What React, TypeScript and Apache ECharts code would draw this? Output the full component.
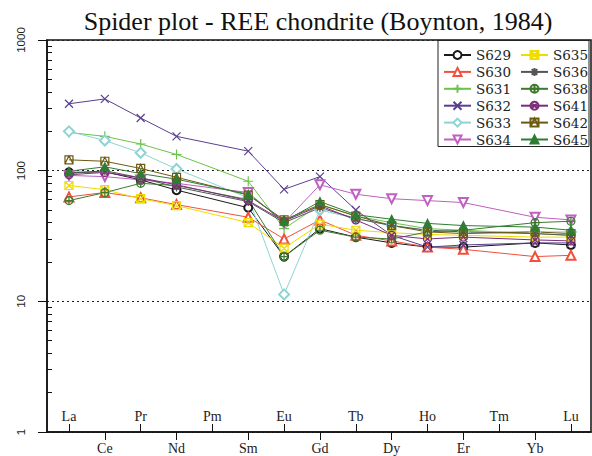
import React, { useEffect, useRef } from "react";
import * as echarts from "echarts";

const elements = ["La", "Ce", "Pr", "Nd", "Pm", "Sm", "Eu", "Gd", "Tb", "Dy", "Ho", "Er", "Tm", "Yb", "Lu"];
const insideLabelIdx = [0, 2, 4, 6, 8, 10, 12, 14];
const outsideLabelIdx = [1, 3, 5, 7, 9, 11, 13];
const minorTickValues = [2, 3, 4, 5, 6, 7, 8, 9, 20, 30, 40, 50, 60, 70, 80, 90, 200, 300, 400, 500, 600, 700, 800, 900];

const sampleNames = ["S629", "S630", "S631", "S632", "S633", "S634", "S635", "S636", "S638", "S641", "S642", "S645"];
const legendCol1 = ["S629", "S630", "S631", "S632", "S633", "S634"];
const legendCol2 = ["S635", "S636", "S638", "S641", "S642", "S645"];

const S629 = [97, 98, 85, 71, null, 52, 22, 36, 31, 28, 26, 26, null, 28, 27];
const S630 = [63, 68, 62, 55, null, 44, 30, 42, 32, 29, 26, 25, null, 22, 22.5];
const S631 = [196, 183, 160, 133, null, 83, 36, 55, 45, 40, 36, 35, null, 33, 32];
const S632 = [325, 354, 253, 183, null, 141, 72, 90, 50, 32, 26, 27, null, 28, 28];
const S633 = [200, 170, 137, 103, null, 62, 11.3, 50, 43, 38, 35, 34, null, 34, 34];
const S634 = [92, 90, 85, 80, null, 68, 40, 78, 66, 61, 59, 57, null, 44, 42];
const S635 = [77, 71.5, 61, 54, null, 40, 25.5, 39, 35, 33.5, 32.5, 32, null, 31, 31];
const S636 = [95, 100, 88, 75, null, 58, 40, 52, 43, 38, 35, 34, null, 33, 32];
const S638 = [59, 68, 80, 77, null, 60, 22, 35, 31, 30, 34, 35, null, 40, 41];
const S641 = [93, 97, 88, 78, null, 59, 41, 54, 42, 32, 30, 31, null, 29.5, 29];
const S642 = [121, 118, 104, 89, null, 65, 42, 55, 45, 38, 34, 33, null, 34, 33];
const S645 = [99, 107, 95, 86, null, 66, 41, 58, 46, 42.5, 39.5, 38, null, 37, 35];

const sampleValues = [S629, S630, S631, S632, S633, S634, S635, S636, S638, S641, S642, S645];

const colors = ["#1a1a1a", "#f0503c", "#6cc24a", "#5b3f8f", "#8fd3d3", "#c060c0", "#eedd00", "#555555", "#3d7a2e", "#7a2e7a", "#6b5a10", "#2e7d32"];

const PLUS = "path://M5,0L5,10M0,5L10,5";
const CROSS = "path://M0,0L10,10M10,0L0,10";
const STAR = "path://M5,0L5,10M0,5L10,5M1.5,1.5L8.5,8.5M8.5,1.5L1.5,8.5";
const SQ_CROSS = "path://M0,0L10,0L10,10L0,10ZM0,0L10,10M10,0L0,10";
const CIRC_PLUS = "path://M0,5A5,5,0,1,1,10,5A5,5,0,1,1,0,5ZM5,0L5,10M0,5L10,5";
const CIRC_CROSS = "path://M0,5A5,5,0,1,1,10,5A5,5,0,1,1,0,5ZM1.5,1.5L8.5,8.5M8.5,1.5L1.5,8.5";
const SQ_TRI = "path://M0,0L10,0L10,10L0,10ZM0,10L5,0L10,10";

type Sym = { symbol: string; size: number; rotate?: number; outline?: boolean };
const symbols: Sym[] = [
  { symbol: "emptyCircle", size: 8 },
  { symbol: "emptyTriangle", size: 9 },
  { symbol: PLUS, size: 10, outline: true },
  { symbol: CROSS, size: 8, outline: true },
  { symbol: "emptyDiamond", size: 10 },
  { symbol: "emptyTriangle", size: 9, rotate: 180 },
  { symbol: SQ_CROSS, size: 8, outline: true },
  { symbol: STAR, size: 9, outline: true },
  { symbol: CIRC_PLUS, size: 8, outline: true },
  { symbol: CIRC_CROSS, size: 8, outline: true },
  { symbol: SQ_TRI, size: 8, outline: true },
  { symbol: "triangle", size: 8 },
];

export default function App() {
  const ref = useRef<HTMLDivElement>(null);
  useEffect(() => {
    if (!ref.current) return;
    const chart = echarts.init(ref.current, undefined, { renderer: "svg" });
    const serif = "Liberation Serif";
    const series = sampleNames.map((name, k) => {
      const c = colors[k];
      const s = symbols[k];
      const data = sampleValues[k]
        .map((v, i) => (v == null ? null : [i, v]))
        .filter((d) => d !== null);
      return {
        name,
        type: "line",
        xAxisIndex: 0,
        yAxisIndex: 0,
        data,
        symbol: s.symbol,
        symbolSize: s.size,
        symbolRotate: s.rotate || 0,
        showAllSymbol: true,
        lineStyle: { color: c, width: 1 },
        itemStyle: s.outline
          ? { color: "none", borderColor: c, borderWidth: 1.2 }
          : { color: c, borderColor: c, borderWidth: 1.2 },
        emphasis: { disabled: true },
      };
    });
    const legendCommon = {
      orient: "vertical",
      top: 48,
      padding: 0,
      itemWidth: 27,
      itemHeight: 10,
      itemGap: 2.9,
      selectedMode: false,
      textStyle: { fontFamily: "DejaVu Serif", fontSize: 13.5, color: "#222", lineHeight: 10 },
    };
    chart.setOption({
      animation: false,
      backgroundColor: "#fff",
      title: {
        text: "Spider plot - REE chondrite (Boynton, 1984)",
        left: 318,
        top: 8,
        padding: 0,
        textAlign: "center",
        textStyle: { fontFamily: serif, fontSize: 26, fontWeight: "normal", color: "#111" },
      },
      graphic: [
        {
          type: "rect",
          z: 3,
          shape: { x: 438, y: 40.5, width: 151, height: 106 },
          style: { fill: "#fff", stroke: "#222", lineWidth: 1 },
        },
      ],
      legend: [
        { ...legendCommon, data: legendCol1, left: 443 },
        { ...legendCommon, data: legendCol2, left: 520 },
      ],
      grid: {
        left: 47,
        right: 1,
        top: 40,
        bottom: 24,
        show: true,
        borderColor: "#111",
        borderWidth: 1.5,
        containLabel: false,
      },
      xAxis: [
        {
          type: "value",
          min: -0.613,
          max: 14.56,
          position: "bottom",
          axisLine: { show: true, onZero: false, lineStyle: { color: "#111", width: 1.5 } },
          splitLine: { show: false },
          axisTick: { show: true, inside: false, length: 8, customValues: outsideLabelIdx, lineStyle: { color: "#111" } },
          axisLabel: {
            show: true,
            customValues: outsideLabelIdx,
            margin: 9,
            fontFamily: serif,
            fontSize: 14,
            color: "#222",
            formatter: (v: number) => elements[Math.round(v)] || "",
          },
        },
        {
          type: "value",
          min: -0.613,
          max: 14.56,
          position: "bottom",
          axisLine: { show: false, onZero: false },
          splitLine: { show: false },
          axisTick: { show: true, inside: true, length: 8, customValues: insideLabelIdx, lineStyle: { color: "#111" } },
          axisLabel: {
            show: true,
            inside: true,
            customValues: insideLabelIdx,
            margin: 9,
            fontFamily: serif,
            fontSize: 14,
            color: "#222",
            formatter: (v: number) => elements[Math.round(v)] || "",
          },
        },
      ],
      yAxis: [
        {
          type: "log",
          logBase: 10,
          min: 1,
          max: 1000,
          position: "left",
          axisLine: { show: true, onZero: false, lineStyle: { color: "#111", width: 1.5 } },
          axisTick: { show: true, inside: false, length: 9, lineStyle: { color: "#111" } },
          axisLabel: {
            rotate: 90,
            margin: 20,
            fontFamily: "Liberation Sans",
            fontSize: 11.5,
            color: "#222",
            formatter: (v: number) => String(Math.round(v)),
          },
          splitLine: { show: true, lineStyle: { type: [2, 3], color: "#222", width: 1 } },
        },
        {
          type: "log",
          logBase: 10,
          min: 1,
          max: 1000,
          position: "left",
          axisLine: { show: false, onZero: false },
          axisLabel: { show: false },
          splitLine: { show: false },
          axisTick: { show: true, inside: true, length: 5, customValues: minorTickValues, lineStyle: { color: "#111" } },
        },
      ],
      series,
    });
    return () => chart.dispose();
  }, []);
  return <div ref={ref} style={{ width: 592, height: 456, position: "absolute", left: 0, top: 0 }} />;
}
